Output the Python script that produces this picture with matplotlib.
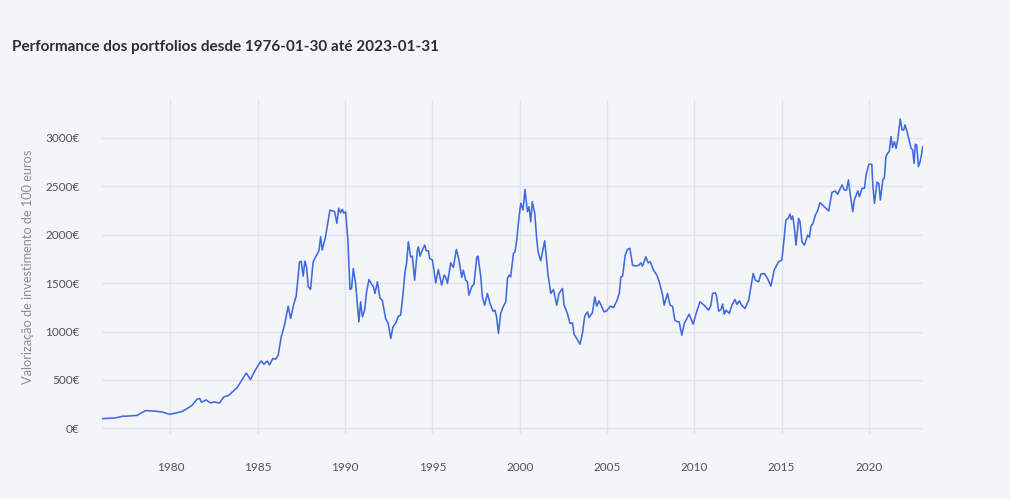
import matplotlib
matplotlib.use("Agg")
import matplotlib.pyplot as plt

# Portfolio value (decimal year, euros)
years = [
    1976.08, 1976.5, 1976.85, 1977.23, 1977.7, 1978.09, 1978.57, 1979.04, 1979.52, 1979.94,
    1980.3, 1980.63, 1980.86, 1981.24, 1981.53, 1981.68, 1981.78, 1982.04, 1982.29, 1982.48,
    1982.81, 1983.05, 1983.34, 1983.82, 1984.11, 1984.34, 1984.58, 1984.83, 1985.06, 1985.2,
    1985.35, 1985.54, 1985.67, 1985.86, 1986.02, 1986.17, 1986.34, 1986.53, 1986.74, 1986.88,
    1987.07, 1987.2, 1987.39, 1987.49, 1987.6, 1987.7, 1987.79, 1987.89, 1988.02, 1988.17,
    1988.5, 1988.6, 1988.69, 1988.88, 1989.13, 1989.4, 1989.53, 1989.63, 1989.74, 1989.84,
    1989.93, 1990.03, 1990.16, 1990.28, 1990.37, 1990.47, 1990.6, 1990.79, 1990.89, 1990.99,
    1991.12, 1991.23, 1991.37, 1991.52, 1991.62, 1991.71, 1991.85, 1992.0, 1992.13, 1992.32,
    1992.47, 1992.61, 1992.74, 1992.89, 1993.05, 1993.18, 1993.31, 1993.43, 1993.52, 1993.62,
    1993.75, 1993.85, 1993.98, 1994.14, 1994.2, 1994.29, 1994.42, 1994.56, 1994.65, 1994.77,
    1994.84, 1995.0, 1995.19, 1995.34, 1995.53, 1995.67, 1995.76, 1995.86, 1996.05, 1996.2,
    1996.37, 1996.52, 1996.68, 1996.77, 1996.9, 1997.0, 1997.09, 1997.25, 1997.38, 1997.54,
    1997.61, 1997.77, 1997.86, 1997.99, 1998.15, 1998.3, 1998.47, 1998.58, 1998.68, 1998.78,
    1998.91, 1999.05, 1999.2, 1999.3, 1999.39, 1999.48, 1999.64, 1999.73, 1999.83, 1999.96,
    2000.06, 2000.19, 2000.3, 2000.44, 2000.53, 2000.63, 2000.72, 2000.86, 2000.97, 2001.05,
    2001.2, 2001.43, 2001.62, 2001.78, 2001.93, 2002.12, 2002.25, 2002.45, 2002.54, 2002.73,
    2002.88, 2003.02, 2003.11, 2003.3, 2003.45, 2003.59, 2003.72, 2003.88, 2003.97, 2004.16,
    2004.3, 2004.41, 2004.54, 2004.68, 2004.83, 2004.99, 2005.18, 2005.37, 2005.56, 2005.7,
    2005.79, 2005.89, 2006.04, 2006.17, 2006.31, 2006.46, 2006.65, 2006.84, 2006.93, 2007.03,
    2007.22, 2007.35, 2007.47, 2007.66, 2007.85, 2007.99, 2008.18, 2008.27, 2008.46, 2008.61,
    2008.75, 2008.88, 2009.04, 2009.13, 2009.28, 2009.42, 2009.7, 2009.93, 2010.13, 2010.32,
    2010.56, 2010.81, 2010.95, 2011.04, 2011.2, 2011.27, 2011.39, 2011.52, 2011.62, 2011.71,
    2011.81, 2012.0, 2012.15, 2012.32, 2012.44, 2012.57, 2012.71, 2012.9, 2013.11, 2013.24,
    2013.37, 2013.49, 2013.68, 2013.81, 2014.0, 2014.19, 2014.38, 2014.57, 2014.67, 2014.82,
    2015.01, 2015.14, 2015.24, 2015.37, 2015.47, 2015.55, 2015.63, 2015.72, 2015.82, 2015.97,
    2016.05, 2016.16, 2016.3, 2016.49, 2016.59, 2016.68, 2016.78, 2016.93, 2017.06, 2017.19,
    2017.38, 2017.69, 2017.88, 2018.07, 2018.2, 2018.45, 2018.59, 2018.72, 2018.82, 2018.93,
    2019.07, 2019.16, 2019.36, 2019.45, 2019.6, 2019.74, 2019.83, 2019.99, 2020.16, 2020.22,
    2020.31, 2020.46, 2020.56, 2020.65, 2020.79, 2020.88, 2020.97, 2021.07, 2021.16, 2021.26,
    2021.35, 2021.45, 2021.55, 2021.64, 2021.79, 2021.89, 2021.99, 2022.06, 2022.18, 2022.27,
    2022.41, 2022.5, 2022.58, 2022.65, 2022.73, 2022.83, 2022.92, 2023.02, 2023.08,
]
values = [
    100, 104, 107, 124, 128, 134, 183, 179, 169, 145,
    158, 172, 193, 238, 303, 307, 269, 293, 262, 272,
    262, 324, 341, 421, 504, 572, 504, 593, 662, 696,
    662, 696, 655, 721, 714, 755, 944, 1066, 1262, 1135,
    1290, 1366, 1720, 1724, 1572, 1728, 1669, 1462, 1435, 1720,
    1834, 1979, 1841, 1979, 2255, 2238, 2118, 2273, 2228, 2262,
    2221, 2238, 1945, 1435, 1445, 1652, 1497, 1100, 1307, 1152,
    1221, 1410, 1538, 1487, 1462, 1393, 1514, 1342, 1324, 1135,
    1083, 928, 1048, 1083, 1159, 1169, 1376, 1617, 1704, 1927,
    1772, 1779, 1531, 1841, 1876, 1779, 1841, 1893, 1834, 1834,
    1755, 1738, 1503, 1641, 1479, 1583, 1565, 1497, 1710, 1662,
    1849, 1738, 1559, 1634, 1531, 1514, 1376, 1462, 1490, 1766,
    1779, 1565, 1358, 1272, 1393, 1290, 1210, 1221, 1145, 980,
    1187, 1255, 1307, 1549, 1583, 1565, 1807, 1824, 1945, 2186,
    2325, 2255, 2469, 2238, 2290, 2134, 2341, 2221, 1962, 1824,
    1731, 1938, 1583, 1393, 1435, 1272, 1393, 1445, 1272, 1187,
    1083, 1090, 972, 917, 869, 980, 1159, 1203, 1145, 1193,
    1358, 1262, 1317, 1262, 1203, 1214, 1262, 1248, 1317, 1393,
    1565, 1572, 1790, 1849, 1859, 1686, 1676, 1686, 1710, 1676,
    1772, 1710, 1721, 1634, 1583, 1514, 1376, 1272, 1393, 1272,
    1262, 1117, 1100, 1100, 962, 1083, 1179, 1076, 1203, 1307,
    1272, 1221, 1272, 1393, 1400, 1366, 1210, 1228, 1283, 1179,
    1221, 1187, 1272, 1331, 1279, 1317, 1272, 1238, 1324, 1462,
    1600, 1531, 1514, 1593, 1600, 1549, 1469, 1634, 1669, 1721,
    1738, 1962, 2152, 2169, 2214, 2159, 2193, 2083, 1893, 2169,
    2134, 1927, 1893, 1997, 1973, 2090, 2110, 2203, 2248, 2331,
    2300, 2245, 2438, 2452, 2418, 2514, 2462, 2462, 2566, 2410,
    2238, 2359, 2452, 2393, 2480, 2480, 2617, 2728, 2728, 2514,
    2324, 2542, 2531, 2359, 2566, 2590, 2807, 2842, 2859, 3014,
    2900, 2962, 2893, 2979, 3197, 3083, 3083, 3135, 3066, 2997,
    2893, 2876, 2738, 2935, 2928, 2703, 2749, 2842, 2910,
]

x_ticks = [1980, 1985, 1990, 1995, 2000, 2005, 2010, 2015, 2020]
y_ticks = [0, 500, 1000, 1500, 2000, 2500, 3000]

bg = "#f4f5f9"
grid = "#e1e4ec"

plt.rcParams['font.family'] = ['Lato', 'DejaVu Sans']

fig = plt.figure(figsize=(10.1, 4.99), dpi=100, facecolor=bg)
ax = fig.add_axes([0.101, 0.130, 0.813, 0.670], facecolor=bg)

ax.plot(years, values, color="#4169e1", linewidth=1.15)

ax.set_xlim(1976.08, 2023.1)
ax.set_ylim(-60, 3394)
ax.set_xticks(x_ticks)
ax.set_xticklabels([str(t) for t in x_ticks])
ax.set_yticks(y_ticks)
ax.set_yticklabels([f"{t}€" for t in y_ticks])
ax.grid(True, color=grid, linewidth=1)
ax.set_axisbelow(True)
for s in ax.spines.values():
    s.set_visible(False)
ax.tick_params(length=0, colors="#50535e", labelsize=8.5)
ax.tick_params(axis="x", pad=20)
ax.tick_params(axis="y", pad=16)

ax.set_ylabel("Valorização de investimento de 100 euros", color="#8a8d98",
              fontsize=9.2, labelpad=10)
ax.yaxis.set_label_coords(-0.083, 0.5)

fig.text(0.012, 0.905, "Performance dos portfolios desde 1976-01-30 até 2023-01-31",
         fontsize=11, fontweight="bold", color="#2b2d38", ha="left", va="center")

fig.savefig("out.png", dpi=100, facecolor=bg)
